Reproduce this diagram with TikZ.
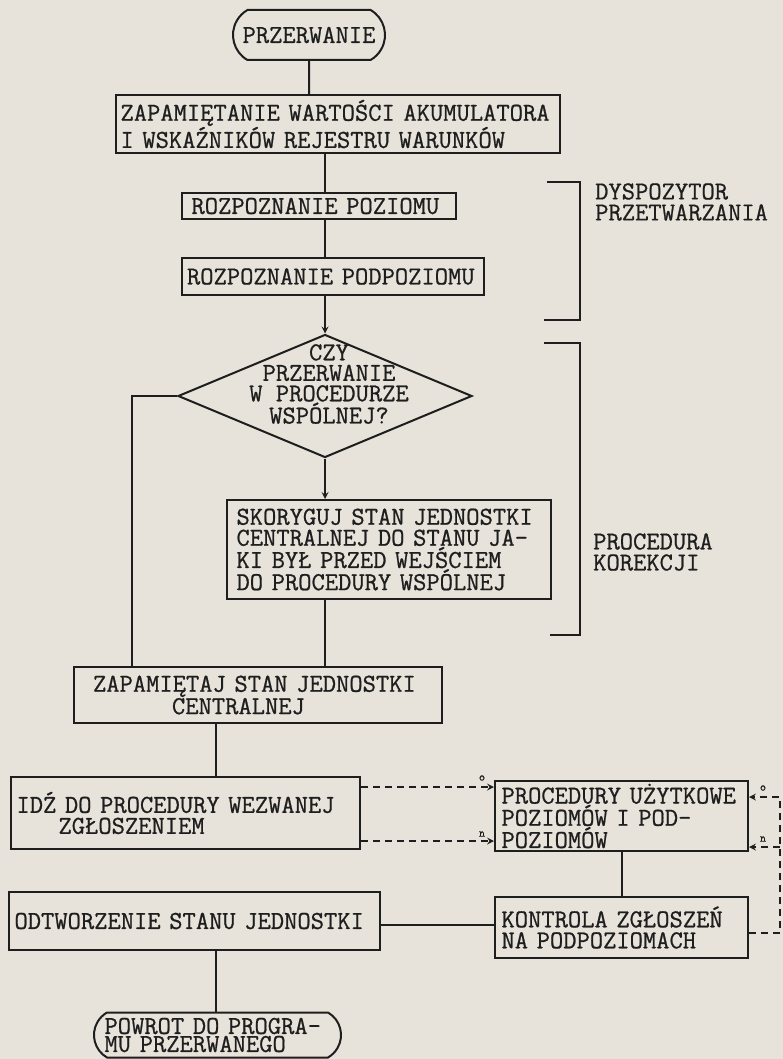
\documentclass[tikz,border=0pt]{standalone}
\usepackage{fontspec}
\newfontfamily\twfont{Latin Modern Mono}[FakeBold=0.8]
\usetikzlibrary{shapes.geometric,shapes.misc}
\definecolor{paper}{RGB}{231,227,219}
\definecolor{ink}{RGB}{30,30,30}
\newcommand\tw{\twfont\fontsize{25.8}{21}\selectfont}

\begin{document}
\begin{tikzpicture}[x=1pt, y=-1pt,
  box/.style={draw=ink, line width=2pt, align=left, inner xsep=4pt, inner ysep=0pt, font=\tw, text=ink},
  term/.style={box, rounded rectangle, rounded rectangle arc length=120},
  dec/.style={draw=ink, line width=2pt, diamond, shape aspect=2.4, inner sep=0pt},
  lbl/.style={align=left, font=\tw, text=ink, inner sep=0pt},
  tiny/.style={font=\twfont\fontsize{12}{12}\selectfont, text=ink, inner sep=0pt},
  line/.style={draw=ink, line width=2pt},
  arr/.style={line, ->, >=stealth},
  dasharr/.style={arr, dash pattern=on 7pt off 5pt}
]
\useasboundingbox (0,0) rectangle (783,1059);
\fill[paper] (0,0) rectangle (783,1059);

% main column
\node[term, minimum width=160pt, minimum height=50pt] (start) at (309,35) {PRZERWANIE};
\node[box, font={\twfont\fontsize{25.8}{19}\selectfont}, minimum width=444pt, minimum height=58pt, text width=435pt] (save) at (338,124) {ZAPAMIĘTANIE WARTOŚCI AKUMULATORA\\I WSKAŹNIKÓW REJESTRU WARUNKÓW};
\node[box, minimum width=274pt, minimum height=26pt, text width=255pt] (level) at (319,206) {ROZPOZNANIE POZIOMU};
\node[box, minimum width=302pt, minimum height=37pt, text width=292pt] (sublevel) at (333,276.5) {ROZPOZNANIE PODPOZIOMU};
\node[dec, minimum width=294pt, minimum height=123pt] (ask) at (325,396) {};
\node[lbl, align=center, font={\twfont\fontsize{25.8}{20.5}\selectfont}] (askq) at (329,384) {CZY\\PRZERWANIE\\W PROCEDURZE\\WSPÓLNEJ?};
\node[box, minimum width=324pt, minimum height=99pt, text width=305pt] (fix) at (389,549.5) {SKORYGUJ STAN JEDNOSTKI\\CENTRALNEJ DO STANU JA-\\KI BYŁ PRZED WEJŚCIEM\\DO PROCEDURY WSPÓLNEJ};
\node[box, minimum width=368pt, minimum height=56pt, text width=330pt] (store) at (258,695) {ZAPAMIĘTAJ STAN JEDNOSTKI\\\hspace*{79pt}CENTRALNEJ};
\node[box, minimum width=349pt, minimum height=72pt, text width=338pt] (jump) at (185.5,813) {IDŹ DO PROCEDURY WEZWANEJ\\\hspace*{42pt}ZGŁOSZENIEM};
\node[box, minimum width=371pt, minimum height=58pt, text width=360pt] (restore) at (194.5,921) {ODTWORZENIE STANU JEDNOSTKI};
\node[term, font={\twfont\fontsize{25.8}{18}\selectfont}, minimum width=255pt, minimum height=45pt, text width=226pt] (end) at (217.5,1035) {POWROT DO PROGRA-\\MU PRZERWANEGO};

% right column
\node[box, minimum width=253pt, minimum height=70pt, text width=240pt] (user) at (621.5,816) {PROCEDURY UŻYTKOWE\\POZIOMÓW I POD-\\POZIOMÓW};
\node[box, minimum width=253pt, minimum height=61pt, text width=240pt] (check) at (621.5,927.5) {KONTROLA ZGŁOSZEŃ\\NA PODPOZIOMACH};

% brackets
\draw[line] (547,182) -- (580,182) -- (580,320) -- (544,320);
\draw[line] (544,343) -- (580,343) -- (580,635) -- (550,635);
\node[lbl, anchor=west] (disp) at (595,202) {DYSPOZYTOR\\PRZETWARZANIA};
\node[lbl, anchor=west] (corr) at (593,552) {PROCEDURA\\KOREKCJI};

\coordinate (lcol) at (132,396);
\coordinate (rtop) at (780,797);
\coordinate (rmid) at (780,847);
\coordinate (rbot) at (780,933);

% connectors
\draw[line] (start) -- (start |- save.north);
\draw[line] (ask.north |- save.south) -- (ask.north |- level.north);
\draw[line] (ask.north |- level.south) -- (ask.north |- sublevel.north);
\draw[arr] (ask.north |- sublevel.south) -- (ask.north);
\draw[line] (ask.west) -- (lcol) -- (lcol |- store.north);
\draw[arr] (ask.south) -- (ask.south |- fix.north);
\draw[line] (ask.south |- fix.south) -- (ask.south |- store.north);
\draw[line] (store.south -| 216,0) -- (jump.north -| 216,0);
\draw[dasharr] (jump.east |- 0,787) -- (user.west |- 0,787);
\draw[dasharr] (jump.east |- 0,841) -- (user.west |- 0,841);
\draw[line] (user) -- (check);
\draw[line] (restore.east |- 0,925) -- (check.west |- 0,925);
\draw[line] (restore.south -| 216,0) -- (end.north -| 216,0);
\draw[dasharr] (check.east |- rbot) -- (rbot) -- (rtop) -- (user.east |- rtop);
\draw[dasharr] (rmid) -- (user.east |- rmid);

\node[tiny] (o1) at (482,778) {o};
\node[tiny] (n1) at (482,834) {n};
\node[tiny] (o2) at (763,788) {o};
\node[tiny] (n2) at (763,839) {n};
\end{tikzpicture}
\end{document}
